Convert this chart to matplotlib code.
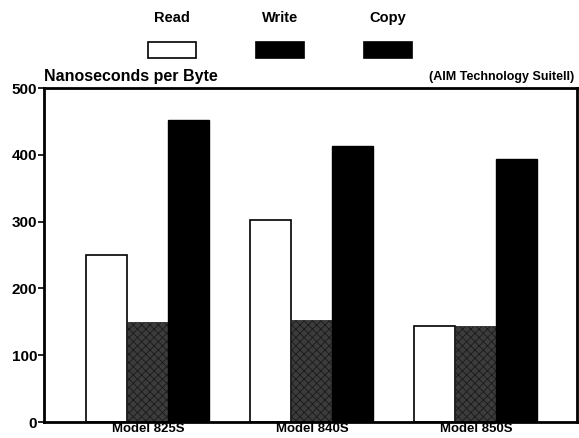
import numpy as np
import matplotlib.pyplot as plt
from matplotlib.patches import Rectangle

plt.rcParams['font.family'] = ['Liberation Sans', 'DejaVu Sans']
plt.rcParams['font.weight'] = 'bold'
plt.rcParams['hatch.linewidth'] = 0.6

models = ['Model 825S', 'Model 840S', 'Model 850S']
read = [250, 302, 144]
write = [150, 153, 144]
copy = [452, 413, 394]
yticks = [0, 100, 200, 300, 400, 500]

fig = plt.figure(figsize=(5.79, 4.38), dpi=100)
ax = fig.add_axes([0.076, 0.0365, 0.9205, 0.7625])

x = np.arange(len(models))
w = 0.25
ax.bar(x - w, read, w, color='white', edgecolor='black', linewidth=1.2)
ax.bar(x, write, w, color='#3c3c3c', edgecolor='#1a1a1a', hatch='xxxx', linewidth=0.5)
ax.bar(x + w, copy, w, color='black', edgecolor='black')

ax.set_xlim(-0.634, 2.616)
ax.set_ylim(0, 500)
ax.set_yticks(yticks)
ax.set_yticklabels([str(v) for v in yticks], fontsize=11, fontweight='bold')
ax.set_xticks(x)
ax.set_xticklabels(models, fontsize=9.5, fontweight='bold')
ax.tick_params(axis='x', length=0, pad=1)
ax.tick_params(axis='y', length=4, width=1.2, pad=1)
for s in ax.spines.values():
    s.set_linewidth(2)

fig.text(44 / 579, 1 - 77 / 438, 'Nanoseconds per Byte', fontsize=11.5,
         fontweight='bold', va='center', ha='left')
fig.text(574 / 579, 1 - 77 / 438, '(AIM Technology SuiteII)', fontsize=9,
         fontweight='bold', va='center', ha='right')

# legend: label above swatch
leg_labels = ['Read', 'Write', 'Copy']
leg_cx = [172, 280, 388]
leg_fc = ['white', 'black', 'black']
for lab, cx, fc in zip(leg_labels, leg_cx, leg_fc):
    fig.text(cx / 579, 1 - 18 / 438, lab, fontsize=10.5, fontweight='bold',
             ha='center', va='center')
    fig.patches.append(Rectangle(((cx - 24) / 579, 1 - 58 / 438), 48 / 579, 16 / 438,
                                 transform=fig.transFigure, facecolor=fc,
                                 edgecolor='black', linewidth=1.2))

fig.savefig('out.png', dpi=100)
